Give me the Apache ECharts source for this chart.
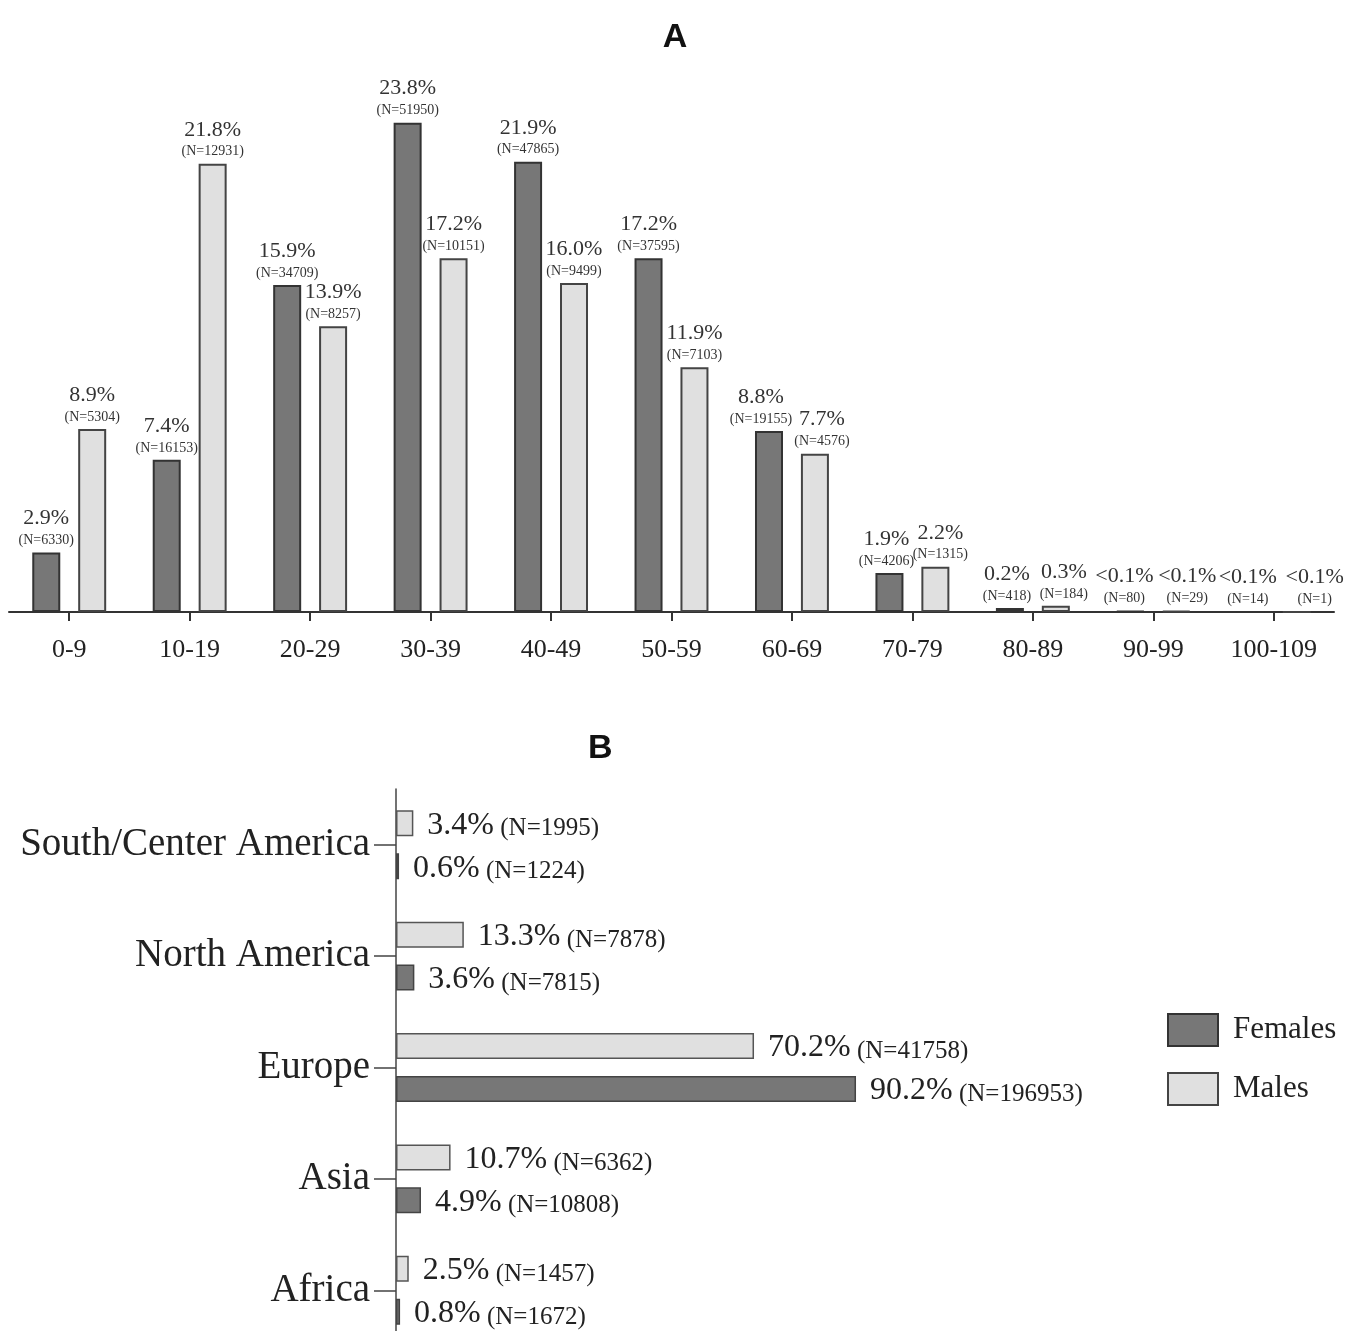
<!DOCTYPE html>
<html><head><meta charset="utf-8">
<script src="https://cdn.jsdelivr.net/npm/echarts@6/dist/echarts.min.js"></script>
<style>html,body{margin:0;padding:0;background:#fff;overflow:hidden}#c{width:1350px;height:1350px}</style>
</head><body><div id="c"></div>
<script>
const ageGroups = ['0-9','10-19','20-29','30-39','40-49','50-59','60-69','70-79','80-89','90-99','100-109'];
const femalePct = [2.9,7.4,15.9,23.8,21.9,17.2,8.8,1.9,0.2,0.04,0.01];
const malePct = [8.9,21.8,13.9,17.2,16.0,11.9,7.7,2.2,0.3,0.05,0.002];
const femalePctLabels = ['2.9%','7.4%','15.9%','23.8%','21.9%','17.2%','8.8%','1.9%','0.2%','<0.1%','<0.1%'];
const malePctLabels = ['8.9%','21.8%','13.9%','17.2%','16.0%','11.9%','7.7%','2.2%','0.3%','<0.1%','<0.1%'];
const femaleN = [6330,16153,34709,51950,47865,37595,19155,4206,418,80,14];
const maleN = [5304,12931,8257,10151,9499,7103,4576,1315,184,29,1];

const regions = ['Africa','Asia','Europe','North America','South/Center America'];
const regionFemalePct = [0.8,4.9,90.2,3.6,0.6];
const regionFemaleN = [1672,10808,196953,7815,1224];
const regionMalePct = [2.5,10.7,70.2,13.3,3.4];
const regionMaleN = [1457,6362,41758,7878,1995];

const SERIF = 'Liberation Serif';
const femaleStyle = {color:'#777777', borderColor:'#333333', borderWidth:2};
const maleStyle = {color:'#e0e0e0', borderColor:'#444444', borderWidth:2};

// label nudges where neighbouring labels are crowded
const femaleLabelShift = [0,0,0,0,0,0,-8,-3,-3,-6,-3];
const maleLabelShift = [0,0,0,0,0,0,7,5,8,11,18];

function labelA(pct, n){
  return {
    show:true, position:'top', distance:4, color:'#333', fontFamily:SERIF,
    formatter: p => '{p|' + pct[p.dataIndex] + '}\n{n|(N=' + n[p.dataIndex] + ')}',
    rich:{
      p:{fontSize:22, lineHeight:28, fontFamily:SERIF, color:'#333'},
      n:{fontSize:14, lineHeight:16, fontFamily:SERIF, color:'#333'}
    }
  };
}
function barData(vals, shifts){
  return vals.map((v,i) => ({value:v, label:{offset:[shifts[i],0]}}));
}
function labelB(pct, n){
  return {
    show:true, position:'right', distance:14, color:'#222', fontFamily:SERIF, fontSize:25,
    formatter: p => '{p|' + pct[p.dataIndex].toFixed(1) + '%} {n|(N=' + n[p.dataIndex] + ')}',
    rich:{
      p:{fontSize:32, lineHeight:36, fontFamily:SERIF, color:'#222', verticalAlign:'bottom'},
      n:{fontSize:25, lineHeight:31, fontFamily:SERIF, color:'#222', verticalAlign:'bottom'}
    }
  };
}

const chart = echarts.init(document.getElementById('c'), null, {renderer:'canvas'});
chart.setOption({
  animation:false,
  backgroundColor:'#ffffff',
  title:[
    {text:'A', left:'center', top:16, textStyle:{fontFamily:'Liberation Sans', fontWeight:'bold', fontSize:34, color:'#111'}},
    {text:'B', left:583, top:727, textStyle:{fontFamily:'Liberation Sans', fontWeight:'bold', fontSize:34, color:'#111'}}
  ],
  legend:{
    data:['Females','Males'], orient:'vertical', left:1167, top:1013, padding:0,
    icon:'rect', itemWidth:50, itemHeight:32, itemGap:25,
    textStyle:{fontFamily:SERIF, fontSize:31, color:'#222', padding:[0,0,0,10]}
  },
  grid:[
    {left:9, top:98, width:1325, height:514},
    {left:396, top:789, width:510, height:557}
  ],
  xAxis:[
    {type:'category', gridIndex:0, data:ageGroups,
     axisLine:{show:true, lineStyle:{color:'#333', width:2}},
     axisTick:{show:true, alignWithLabel:true, length:9, lineStyle:{color:'#333', width:2}},
     axisLabel:{fontFamily:SERIF, fontSize:26, color:'#222', margin:25}},
    {type:'value', gridIndex:1, min:0, max:100, show:false}
  ],
  yAxis:[
    {type:'value', gridIndex:0, min:0, max:25, show:false},
    {type:'category', gridIndex:1, data:regions,
     axisLine:{show:true, lineStyle:{color:'#444', width:1.5}},
     axisTick:{show:true, alignWithLabel:true, length:22, lineStyle:{color:'#444', width:1.5}},
     axisLabel:{fontFamily:SERIF, fontSize:39, color:'#222', margin:26}}
  ],
  series:[
    {name:'Females', type:'bar', xAxisIndex:0, yAxisIndex:0, data:barData(femalePct, femaleLabelShift), barWidth:28, barGap:'64%',
     itemStyle:femaleStyle, label:labelA(femalePctLabels, femaleN)},
    {name:'Males', type:'bar', xAxisIndex:0, yAxisIndex:0, data:barData(malePct, maleLabelShift), barWidth:28, barGap:'64%',
     itemStyle:maleStyle, label:labelA(malePctLabels, maleN)},
    {name:'Males', type:'bar', xAxisIndex:1, yAxisIndex:1, data:regionMalePct, barWidth:26, barGap:'65%',
     itemStyle:{color:'#e0e0e0', borderColor:'#555', borderWidth:1.5}, label:labelB(regionMalePct, regionMaleN)},
    {name:'Females', type:'bar', xAxisIndex:1, yAxisIndex:1, data:regionFemalePct, barWidth:26, barGap:'65%',
     itemStyle:{color:'#777777', borderColor:'#444', borderWidth:1.5}, label:labelB(regionFemalePct, regionFemaleN)}
  ]
});
</script></body></html>
